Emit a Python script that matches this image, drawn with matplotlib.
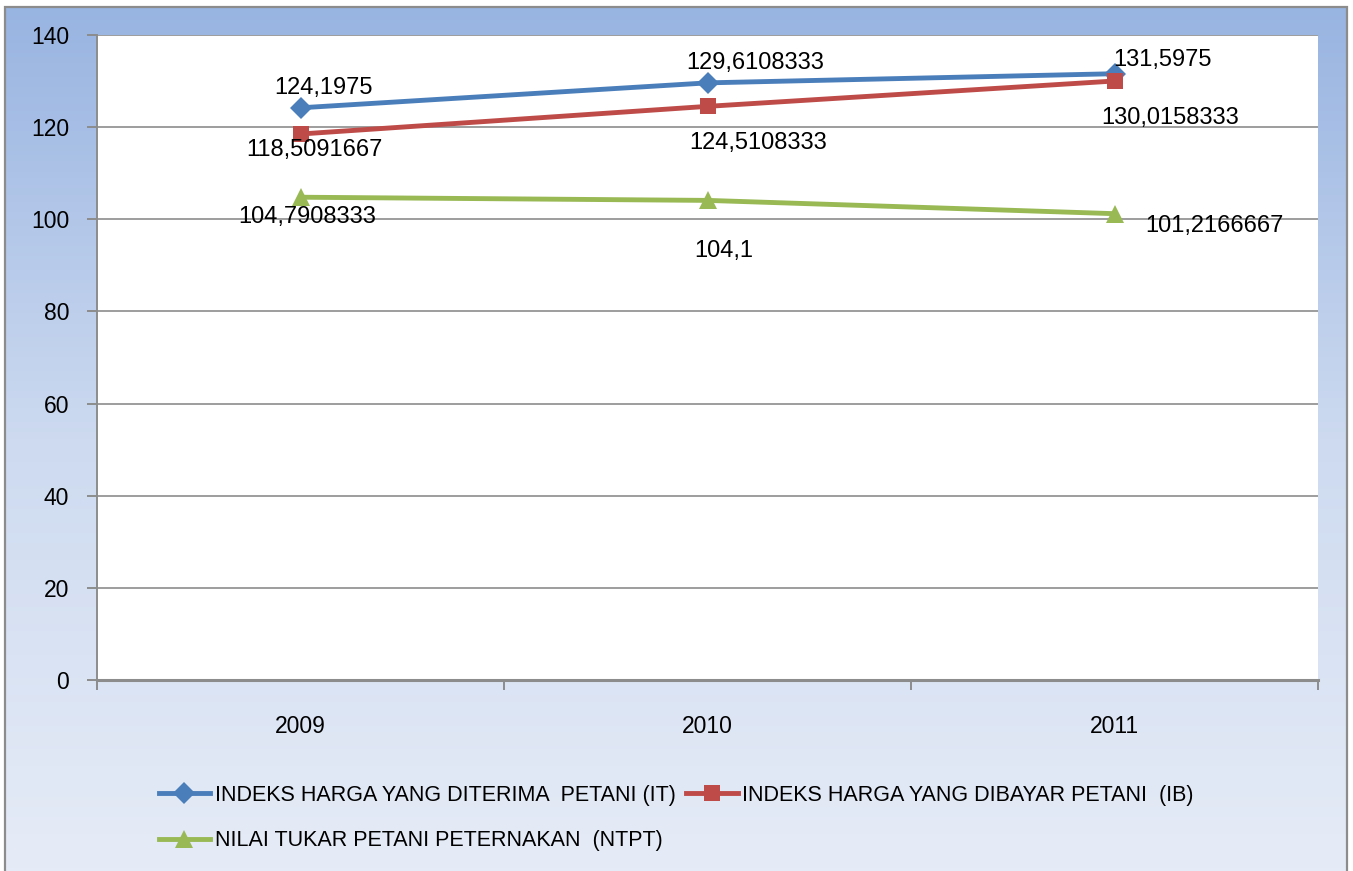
import matplotlib

matplotlib.use("Agg")
import matplotlib.pyplot as plt
import numpy as np
from matplotlib.colors import LinearSegmentedColormap
from matplotlib.patches import Rectangle

YEARS = ["2009", "2010", "2011"]
IT = [124.1975, 129.6108333, 131.5975]
IB = [118.5091667, 124.5108333, 130.0158333]
NTPT = [104.7908333, 104.1, 101.2166667]
IT_LABELS = ["124,1975", "129,6108333", "131,5975"]
IB_LABELS = ["118,5091667", "124,5108333", "130,0158333"]
NTPT_LABELS = ["104,7908333", "104,1", "101,2166667"]
SERIES_NAMES = [
    "INDEKS HARGA YANG DITERIMA  PETANI (IT)",
    "INDEKS HARGA YANG DIBAYAR PETANI  (IB)",
    "NILAI TUKAR PETANI PETERNAKAN  (NTPT)",
]
Y_TICKS = [0, 20, 40, 60, 80, 100, 120, 140]

plt.rcParams["font.family"] = ["Liberation Sans", "DejaVu Sans"]
W, H = 1353, 871
fig = plt.figure(figsize=(W / 100, H / 100), dpi=100, facecolor="white")

# gradient backdrop inside the chart border
bx0, bx1 = 5 / W, 1347 / W
by1 = 1 - 7 / H
bg = fig.add_axes([bx0, 0, bx1 - bx0, by1], zorder=0)
grad = LinearSegmentedColormap.from_list("bg", ["#e6ecf7", "#cddaf0", "#98b4e1"])
bg.imshow(np.linspace(0, 1, 256).reshape(-1, 1), aspect="auto", cmap=grad,
          origin="lower", extent=[0, 1, 0, 1])
bg.set_axis_off()
fig.add_artist(Rectangle((bx0, -0.01), bx1 - bx0, by1 + 0.01, transform=fig.transFigure,
                         fill=False, edgecolor="#8c8c8c", linewidth=1.6, zorder=5))

ax = fig.add_axes([97 / W, 1 - 680 / H, (1318 - 97) / W, (680 - 35) / H], zorder=2)
ax.set_facecolor("white")
x = np.arange(len(YEARS))

styles = [
    (IT, IT_LABELS, "#4a7ebb", "D", 11, [(23, 20), (48, 20), (48, 14)]),
    (IB, IB_LABELS, "#be4b48", "s", 12, [(14, -16), (51, -37), (56, -37)]),
    (NTPT, NTPT_LABELS, "#98b954", "^", 13, [(7, -20), (16, -51), (100, -12)]),
]
handles = []
for vals, labels, color, marker, ms, offsets in styles:
    (h,) = ax.plot(x, vals, color=color, lw=3.5, marker=marker, ms=ms,
                   markeredgewidth=0, zorder=4)
    handles.append(h)
    for xi, v, lab, off in zip(x, vals, labels, offsets):
        ax.annotate(lab, (xi, v), xytext=off, textcoords="offset pixels",
                    ha="center", va="center", fontsize=17, color="black", zorder=6)

ax.set_xlim(-0.5, 2.5)
ax.set_ylim(0, 140)
ax.set_yticks(Y_TICKS)
ax.set_yticklabels([str(t) for t in Y_TICKS], fontsize=16.5)
ax.set_xticks(x)
ax.set_xticklabels(YEARS, fontsize=16.5)
ax.set_xticks([-0.5, 0.5, 1.5, 2.5], minor=True)
ax.tick_params(axis="x", which="major", length=0, pad=25)
ax.tick_params(axis="x", which="minor", length=7, width=1.4, color="#8c8c8c")
ax.tick_params(axis="y", length=7, width=1.4, color="#8c8c8c", pad=13)
ax.grid(axis="y", color="#8c8c8c", linewidth=1.2)
ax.set_axisbelow(True)
for s in ["top", "right"]:
    ax.spines[s].set_visible(False)
ax.spines["left"].set_color("#8c8c8c")
ax.spines["left"].set_linewidth(1.4)
ax.spines["bottom"].set_color("#8c8c8c")
ax.spines["bottom"].set_linewidth(2.2)

fig.legend(
    [handles[0], handles[2], handles[1]],
    [SERIES_NAMES[0], SERIES_NAMES[2], SERIES_NAMES[1]],
    ncol=2,
    loc="upper left",
    bbox_to_anchor=(150 / W, 1 - 776 / H),
    frameon=False,
    prop={"size": 15.5},
    handlelength=2.4,
    handletextpad=0.2,
    columnspacing=0.5,
    labelspacing=1.15,
    borderaxespad=0,
)

fig.savefig("out.png", dpi=100, facecolor="white")
